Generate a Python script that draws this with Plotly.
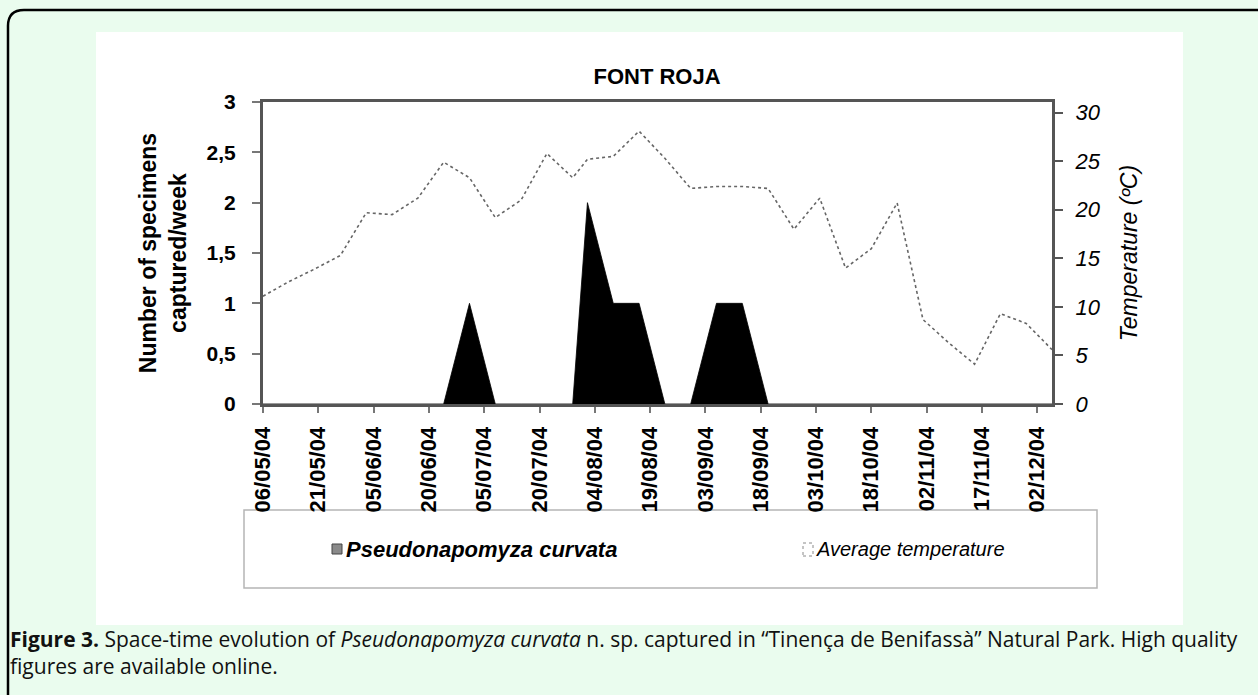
import plotly.graph_objects as go

# ---------------- data ----------------
sample_dates = [
    "2004-05-06", "2004-05-13", "2004-05-20", "2004-05-27", "2004-06-03", "2004-06-10",
    "2004-06-17", "2004-06-24", "2004-07-01", "2004-07-08", "2004-07-15", "2004-07-22",
    "2004-07-29", "2004-08-02", "2004-08-09", "2004-08-16", "2004-08-23", "2004-08-30",
    "2004-09-06", "2004-09-13", "2004-09-20", "2004-09-27", "2004-10-04", "2004-10-11",
    "2004-10-18", "2004-10-25", "2004-11-01", "2004-11-08", "2004-11-15", "2004-11-22",
    "2004-11-29", "2004-12-06",
]
specimens = [0, 0, 0, 0, 0, 0, 0, 0, 1, 0, 0, 0, 0, 2, 1, 1,
             0, 0, 1, 1, 0, 0, 0, 0, 0, 0, 0, 0, 0, 0, 0, 0]
temperature = [11.1, 12.6, 13.9, 15.3, 19.7, 19.5, 21.2, 24.9, 23.3, 19.2, 21.0, 25.8,
               23.3, 25.2, 25.5, 28.1, 25.3, 22.2, 22.4, 22.4, 22.2, 18.0, 21.2, 14.0,
               16.0, 20.7, 8.7, 6.3, 4.1, 9.3, 8.3, 5.6]
left_tickvals = [0, 0.5, 1, 1.5, 2, 2.5, 3]
left_ticktext = ["0", "0,5", "1", "1,5", "2", "2,5", "3"]
right_tickvals = [0, 5, 10, 15, 20, 25, 30]
series_names = ["Pseudonapomyza curvata", "Average temperature"]

# ---------------- layout geometry (pixels) ----------------
W, H = 1258, 695
L, R, T, B = 263, 1052, 102, 404


def px2x(px):
    return (px - L) / (R - L)


def py2y(py):
    return (B - py) / (B - T)


AX = "Liberation Sans"
CAP = "Open Sans"

fig = go.Figure()
fig.add_trace(go.Scatter(
    x=sample_dates, y=specimens, name=series_names[0],
    mode="lines", fill="tozeroy", fillcolor="black",
    line=dict(color="black", width=0.8), yaxis="y", showlegend=False,
))
fig.add_trace(go.Scatter(
    x=sample_dates, y=temperature, name=series_names[1],
    mode="lines", line=dict(color="#666666", width=1.6, dash="dot"), yaxis="y2",
    showlegend=False,
))

shapes = [
    # white chart panel
    dict(type="rect", xref="paper", yref="paper", x0=px2x(96), x1=px2x(1183),
         y0=py2y(625), y1=py2y(32), fillcolor="white", line=dict(width=0), layer="below"),
    # legend box
    dict(type="rect", xref="paper", yref="paper", x0=px2x(244), x1=px2x(1097),
         y0=py2y(588), y1=py2y(510), fillcolor="white",
         line=dict(color="#b5b5b5", width=1.5), layer="below"),
    # legend symbols
    dict(type="rect", xref="paper", yref="paper", x0=px2x(332), x1=px2x(342),
         y0=py2y(554), y1=py2y(544), fillcolor="#8a8a8a",
         line=dict(color="#444444", width=1)),
    dict(type="rect", xref="paper", yref="paper", x0=px2x(803), x1=px2x(813),
         y0=py2y(556), y1=py2y(543), fillcolor="rgba(0,0,0,0)",
         line=dict(color="#8a8a8a", width=1, dash="dot")),
    # outer rounded frame
    dict(type="path", xref="paper", yref="paper",
         path=(f"M {px2x(1275)},{py2y(10)} L {px2x(24)},{py2y(10)} "
               f"Q {px2x(8)},{py2y(10)} {px2x(8)},{py2y(26)} L {px2x(8)},{py2y(720)}"),
         line=dict(color="black", width=2.5), layer="below"),
]

annotations = [
    # legend entries
    dict(xref="paper", yref="paper", x=px2x(344), y=py2y(549), xanchor="left",
         yanchor="middle", showarrow=False, text=f"<b><i>{series_names[0]}</i></b>",
         font=dict(family=AX, size=22, color="black")),
    dict(xref="paper", yref="paper", x=px2x(814), y=py2y(549), xanchor="left",
         yanchor="middle", showarrow=False, text=f"<i>{series_names[1]}</i>",
         font=dict(family=AX, size=20, color="black")),
    # caption (two lines)
    dict(xref="paper", yref="paper", x=px2x(8), y=py2y(652), xanchor="left", yanchor="middle",
         showarrow=False, align="left",
         text=("<b>Figure 3.</b> Space-time evolution of <i>Pseudonapomyza curvata</i> n. sp. "
               "captured in \u201cTinen\u00e7a de Benifass\u00e0\u201d Natural Park. High quality"
               "<br>figures are available online."),
         font=dict(family=CAP, size=21, color="#111111")),
]

fig.update_layout(
    width=W, height=H,
    margin=dict(l=L, r=W - R, t=T, b=H - B, pad=0),
    paper_bgcolor="#eafcee", plot_bgcolor="rgba(0,0,0,0)",
    showlegend=False,
    title=dict(text="<b>FONT ROJA</b>", x=px2x(657), xref="paper", xanchor="center",
               y=1 - 76 / H, yanchor="middle",
               font=dict(family=AX, size=22, color="black")),
    xaxis=dict(
        type="date", range=["2004-05-06", "2004-12-06"],
        tick0="2004-05-06", dtick=15 * 86400000, tickformat="%d/%m/%y",
        tickangle=-90, ticks="outside", ticklen=6, tickcolor="#777777", tickwidth=1.5,
        ticklabelstandoff=5,
        tickfont=dict(family=AX, size=22, color="black", weight="bold"),
        showline=True, linecolor="#555555", linewidth=3, mirror=True,
        showgrid=False, zeroline=False,
    ),
    yaxis=dict(
        range=[0, 3], tickvals=left_tickvals, ticktext=left_ticktext,
        ticks="outside", ticklen=8, tickcolor="#777777", tickwidth=1.5,
        ticklabelstandoff=12,
        tickfont=dict(family=AX, size=21, color="black", weight="bold"),
        showline=True, linecolor="#555555", linewidth=3,
        showgrid=False, zeroline=False,
        title=dict(text="<b>Number of specimens<br>captured/week</b>", standoff=14,
                   font=dict(family=AX, size=23, color="black")),
    ),
    yaxis2=dict(
        overlaying="y", side="right", range=[0, 31.1], tickvals=right_tickvals,
        ticks="outside", ticklen=8, tickcolor="#555555", tickwidth=1.5,
        ticklabelstandoff=8,
        tickfont=dict(family=AX, size=22, color="black", style="italic"),
        showline=True, linecolor="#555555", linewidth=3,
        showgrid=False, zeroline=False,
        title=dict(text="Temperature (\u00baC)", standoff=22,
                   font=dict(family=AX, size=23, color="black", style="italic")),
    ),
    shapes=shapes,
    annotations=annotations,
)

fig.write_html(
    "out.html",
    config={"displayModeBar": False},
    post_script="document.body.style.margin='0';document.body.style.overflow='hidden';",
)
